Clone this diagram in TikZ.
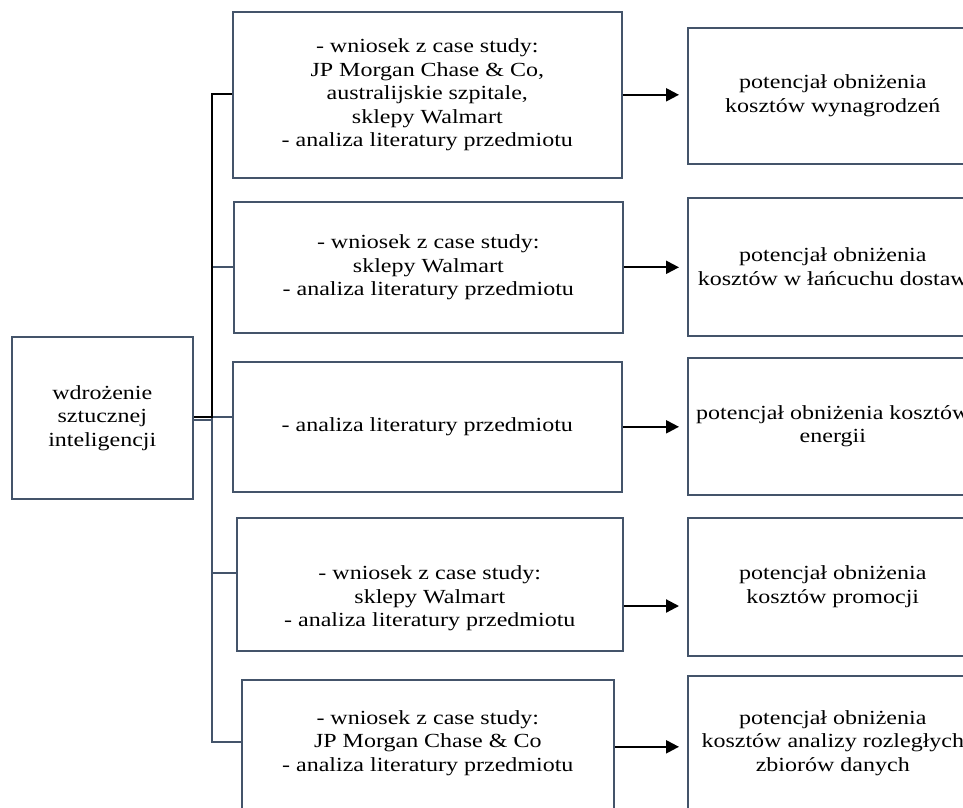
\documentclass[tikz,border=0pt]{standalone}
\usepackage{fontspec}
\setmainfont{Liberation Serif}[FakeStretch=1.2]
\usetikzlibrary{arrows.meta,calc}
\definecolor{slate}{RGB}{68,84,106}
\begin{document}
\begin{tikzpicture}[x=1pt,y=-1pt,
  txt/.style={align=center, inner sep=0pt, font=\fontsize{20}{23.5}\selectfont},
  box/.style={draw=slate, line width=1.6pt, txt, anchor=north west},
  blk/.style={draw=black, line width=2.2pt},
  gry/.style={draw=slate, line width=1.6pt},
  arr/.style={draw=black, line width=2.2pt, -{Triangle[length=13pt,width=13pt]}, shorten >=8pt}]
\useasboundingbox (0,0) rectangle (963,807);
\clip (0,0) rectangle (963,807);
% left box
\node[box, minimum width=181pt, minimum height=162pt] (L) at (11,336) {wdrożenie\\sztucznej\\inteligencji};
% middle boxes
\node[box, minimum width=389pt, minimum height=166pt] (b1) at (232,11)
  {- wniosek z case study:\\JP Morgan Chase \& Co,\\australijskie szpitale,\\sklepy Walmart\\- analiza literatury przedmiotu};
\node[box, minimum width=389pt, minimum height=131pt] (b2) at (233,201)
  {- wniosek z case study:\\sklepy Walmart\\- analiza literatury przedmiotu};
\node[box, minimum width=389pt, minimum height=130pt] (b3) at (232,361)
  {- analiza literatury przedmiotu};
\node[box, minimum width=386pt, minimum height=133pt,
  label={[txt, yshift=-14pt]center:{- wniosek z case study:\\sklepy Walmart\\- analiza literatury przedmiotu}}] (b4) at (236,517) {};
\node[box, minimum width=372pt, minimum height=134pt,
  label={[txt, yshift=4pt]center:{- wniosek z case study:\\JP Morgan Chase \& Co\\- analiza literatury przedmiotu}}] (b5) at (241,679) {};
% right boxes
\node[box, minimum width=290pt, minimum height=136pt] (r1) at (687,27)
  {potencjał obniżenia\\kosztów wynagrodzeń};
\node[box, minimum width=290pt, minimum height=138pt] (r2) at (687,197)
  {potencjał obniżenia\\kosztów w łańcuchu dostaw};
\node[box, minimum width=290pt, minimum height=137pt] (r3) at (687,357)
  {potencjał obniżenia kosztów\\energii};
\node[box, minimum width=290pt, minimum height=138pt] (r4) at (687,517)
  {potencjał obniżenia\\kosztów promocji};
\node[box, minimum width=290pt, minimum height=134pt] (r5) at (687,675)
  {potencjał obniżenia\\kosztów analizy rozległych\\zbiorów danych};
% trunk coordinates
\coordinate (t1) at (212,94);
\coordinate (t2) at (212,267);
\coordinate (tm) at (212,417);
\coordinate (tm2) at (212,420);
\coordinate (t4) at (212,573);
\coordinate (t5) at (212,742);
\coordinate (a4) at (0,606);
% connectors
\draw[gry] (L.east |- tm2) -- (tm2);
\draw[gry] (tm) -- (t5) -- (b5.west |- t5);
\draw[gry] (tm) -- (b3.west |- tm);
\draw[gry] (t2) -- (b2.west |- t2);
\draw[gry] (t4) -- (b4.west |- t4);
\draw[blk] (b1.west |- t1) -- (t1) -- (tm) -- (L.east |- tm);
% arrows
\draw[arr] (b1.east) -- (r1.west |- b1.east);
\draw[arr] (b2.east) -- (r2.west |- b2.east);
\draw[arr] (b3.east) -- (r3.west |- b3.east);
\draw[arr] (b4.east |- a4) -- (r4.west |- a4);
\draw[arr] (b5.east) -- (r5.west |- b5.east);
\end{tikzpicture}
\end{document}
